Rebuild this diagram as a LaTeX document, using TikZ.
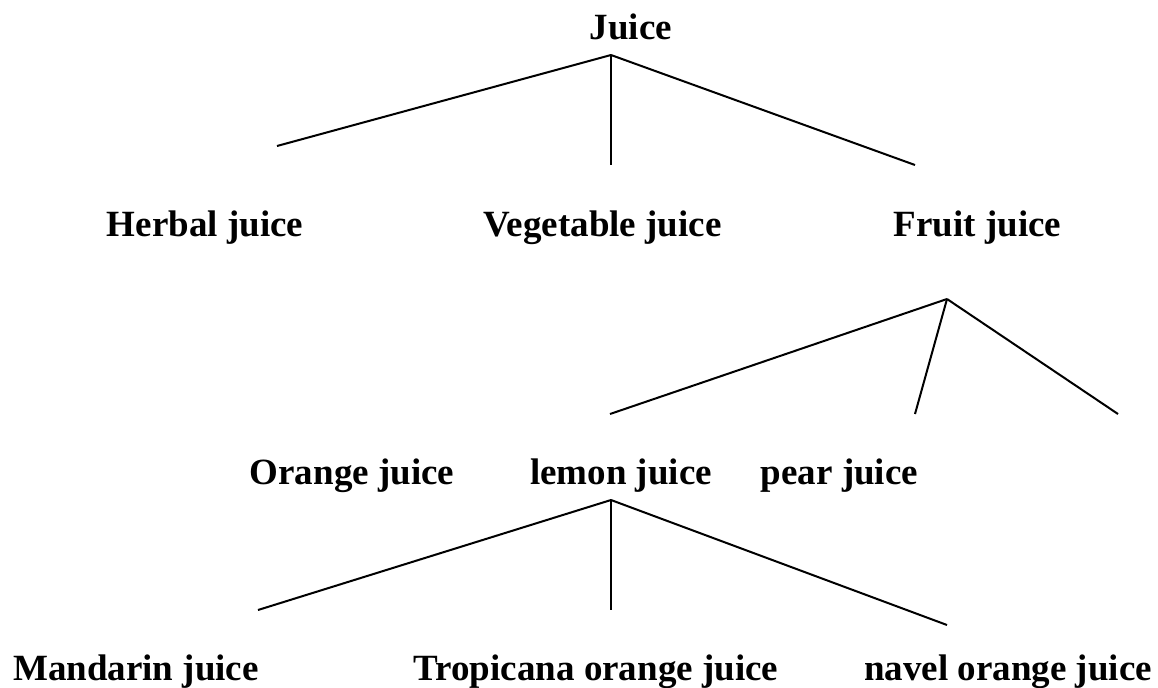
\documentclass[tikz,border=0pt]{standalone}
\usepackage{fontspec}
\setmainfont{Liberation Serif}

\begin{document}
\begin{tikzpicture}[x=0.5pt,y=-0.5pt,
    lbl/.style={anchor=base,inner sep=0pt,font=\fontsize{18.5}{22}\selectfont\bfseries},
    branch/.style={line width=1pt}]
  \useasboundingbox (0,0) rectangle (1158,687);

  % labels
  \node[lbl] (juice)     at (631,39)   {Juice};
  \node[lbl] (herbal)    at (205,236)  {Herbal juice};
  \node[lbl] (vegetable) at (602.5,236) {Vegetable juice};
  \node[lbl] (fruit)     at (977.5,236) {Fruit juice};
  \node[lbl] (orange)    at (352,484)  {Orange juice};
  \node[lbl] (lemon)     at (621,484)  {lemon juice};
  \node[lbl] (pear)      at (839.5,484) {pear juice};
  \node[lbl] (mandarin)  at (136,680)  {Mandarin juice};
  \node[lbl] (tropicana) at (596,680)  {Tropicana orange juice};
  \node[lbl] (navel)     at (1008,680) {navel orange juice};

  % forks and free ends
  \coordinate (juice-fork) at (611,55);
  \coordinate (fruit-fork) at (947,299);
  \coordinate (lemon-fork) at (611,500);
  \coordinate (herbal-tip)    at (277,146);
  \coordinate (vegetable-tip) at (611,165);
  \coordinate (fruit-tip)     at (915,165);
  \coordinate (orange-tip)    at (610,414);
  \coordinate (pear-tip)      at (915,414);
  \coordinate (spare-tip)     at (1118,414);
  \coordinate (mandarin-tip)  at (258,610);
  \coordinate (tropicana-tip) at (611,610);
  \coordinate (navel-tip)     at (947,625);

  % branches
  \foreach \a/\b in {juice-fork/herbal-tip, juice-fork/vegetable-tip, juice-fork/fruit-tip,
                     fruit-fork/orange-tip, fruit-fork/pear-tip, fruit-fork/spare-tip,
                     lemon-fork/mandarin-tip, lemon-fork/tropicana-tip, lemon-fork/navel-tip}
    \draw[branch] (\a) -- (\b);
\end{tikzpicture}
\end{document}
